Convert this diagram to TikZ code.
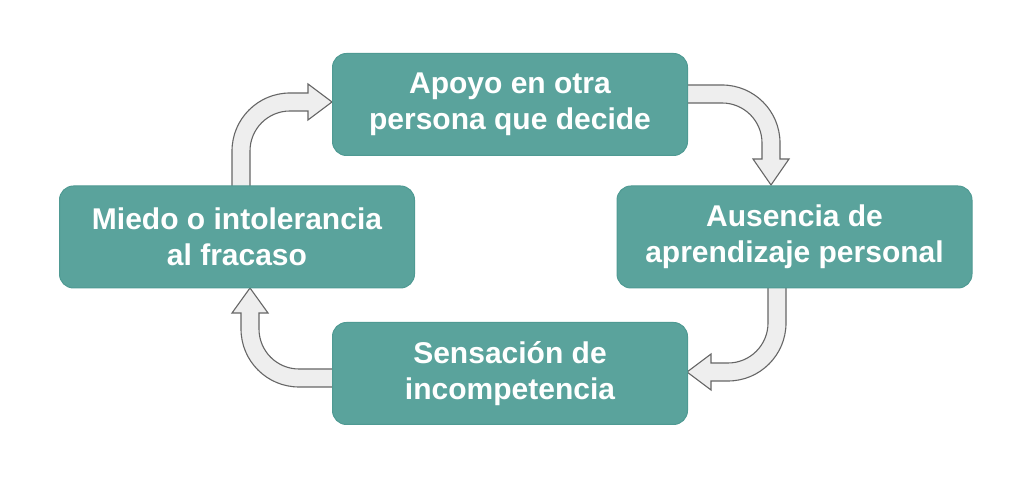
\documentclass[tikz,border=0pt]{standalone}
\usepackage{fontspec}
\setmainfont{Liberation Sans}
\definecolor{teal1}{HTML}{5AA39C}
\definecolor{teal2}{HTML}{4F9A93}
\definecolor{arrfill}{HTML}{EEEEEE}
\definecolor{arrdraw}{HTML}{666666}
\begin{document}
\begin{tikzpicture}[x=1pt,y=1pt,
  stepbox/.style={draw=teal2,line width=1pt,fill=teal1,rounded corners=14pt,
    minimum width=355pt,minimum height=102pt,align=center,text=white,
    font=\bfseries\fontsize{30}{36}\selectfont},
  blockarrow/.style={draw=arrdraw,fill=arrfill,line width=1.1pt,line join=miter}]
\useasboundingbox (0,0) rectangle (1024,478);
% curved block arrows
\draw[blockarrow] (232,287) -- (232,327) arc (180:90:58) -- (308,385) -- (308,394) -- (332,376)
  -- (308,358) -- (308,367) -- (290,367) arc (90:180:40) -- (250,287) -- cycle;
\draw[blockarrow] (680,393) -- (722,393) arc (90:0:58) -- (780,319) -- (789,319) -- (771,293)
  -- (753,319) -- (762,319) -- (762,335) arc (0:90:40) -- (680,375) -- cycle;
\draw[blockarrow] (786,195) -- (786,155) arc (0:-90:58) -- (711,97) -- (711,88) -- (687,106)
  -- (711,124) -- (711,115) -- (728,115) arc (-90:0:40) -- (768,195) -- cycle;
\draw[blockarrow] (340,91) -- (299,91) arc (-90:-180:58) -- (241,165) -- (232,165) -- (250,190)
  -- (268,165) -- (259,165) -- (259,149) arc (180:270:40) -- (340,109) -- cycle;
% boxes
\node[stepbox] (top) at (510,373.5) {Apoyo en otra\\persona que decide};
\node[stepbox] (right) at (794.5,241) {Ausencia de\\aprendizaje personal};
\node[stepbox] (bottom) at (510,104.5) {Sensación de\\incompetencia};
\node[stepbox] (left) at (237,241) {Miedo o intolerancia\\al fracaso};
\end{tikzpicture}
\end{document}
